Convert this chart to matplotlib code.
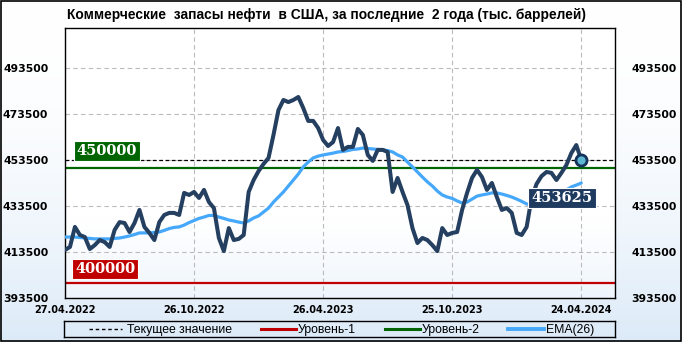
import numpy as np
import pandas as pd
import matplotlib
matplotlib.use("Agg")
import matplotlib.pyplot as plt
from matplotlib.lines import Line2D

# ---------------- data (thousand barrels) ----------------
start_date = "2022-04-27"
stocks = [414.4, 415.7, 424.4, 420.9, 420.0, 414.8, 416.5, 418.7, 417.8, 415.7,
          423.1, 426.5, 426.1, 422.2, 426.1, 431.8, 424.4, 421.8, 418.7, 426.5,
          429.6, 430.5, 430.5, 429.6, 439.2, 438.3, 439.6, 437.0, 440.5, 435.2,
          432.6, 419.6, 413.9, 423.9, 418.7, 419.2, 420.9, 439.6, 444.8, 448.7,
          451.8, 454.4, 464.4, 475.2, 479.6, 478.7, 479.6, 480.9, 476.1, 470.5,
          470.5, 467.4, 462.2, 459.6, 461.3, 467.4, 457.9, 459.2, 459.2, 467.0,
          464.4, 455.7, 453.1, 457.9, 457.9, 457.0, 439.6, 445.7, 439.6, 433.9,
          423.9, 417.4, 419.6, 418.7, 416.5, 413.9, 423.9, 420.9, 421.8, 422.2,
          431.8, 439.2, 445.7, 449.2, 446.1, 440.5, 443.5, 437.4, 431.8, 432.6,
          430.5, 421.8, 420.9, 424.4, 437.0, 443.1, 446.5, 448.3, 447.9, 444.8,
          447.9, 451.3, 456.5, 460.0, 453.625]
ema26 = [420.0, 420.0, 420.0, 419.8, 419.6, 419.4, 419.2, 419.2, 419.2, 419.2,
         419.4, 419.6, 420.0, 420.5, 421.1, 421.8, 421.8, 421.8, 422.0, 422.2,
         422.9, 423.7, 424.2, 424.4, 425.2, 426.3, 427.2, 428.1, 428.7, 429.4,
         429.4, 428.7, 428.1, 427.4, 427.0, 426.5, 426.1, 427.0, 428.3, 429.2,
         430.9, 432.6, 435.2, 437.4, 439.6, 442.2, 444.8, 447.4, 450.5, 452.6,
         454.4, 455.2, 455.7, 456.1, 456.5, 457.0, 457.2, 457.6, 458.1, 458.3,
         458.7, 458.5, 458.3, 458.1, 457.9, 457.6, 457.0, 455.7, 454.8, 452.6,
         450.5, 448.3, 446.1, 444.0, 442.2, 440.0, 438.3, 437.4, 436.8, 435.7,
         434.8, 435.2, 436.5, 437.8, 438.3, 438.7, 439.2, 439.2, 438.7, 438.1,
         437.4, 436.5, 435.5, 434.4, 433.9, 434.4, 435.2, 436.1, 437.0, 437.8,
         439.2, 440.5, 441.8, 442.6, 443.5]
level1 = 400000
level2 = 450000
current_value = 453625
y_ticks = [393500, 413500, 433500, 453500, 473500, 493500]
x_tick_labels = ["27.04.2022", "26.10.2022", "26.04.2023", "25.10.2023", "24.04.2024"]
title = "Коммерческие  запасы нефти  в США, за последние  2 года (тыс. баррелей)"
legend_labels = ["Текущее значение", "Уровень-1", "Уровень-2", "EMA(26)"]

dates = pd.date_range(start_date, periods=len(stocks), freq="7D")
values = np.array(stocks) * 1000
ema_values = np.array(ema26) * 1000
tick_dates = pd.to_datetime(x_tick_labels, format="%d.%m.%Y")

# ---------------- figure ----------------
W, H = 682, 342
fig = plt.figure(figsize=(W / 100, H / 100), dpi=100)

bg = fig.add_axes([0, 0, 1, 1], zorder=-10)
grad = np.linspace(0, 1, 256).reshape(-1, 1)
top_c = np.array([1.0, 1.0, 1.0])
bot_c = np.array([0xDC, 0xEA, 0xF8]) / 255
img = top_c * (1 - grad[..., None] ** 2.0) + bot_c * (grad[..., None] ** 2.0)
img = img.reshape(256, 1, 3)
bg.imshow(img, aspect="auto", extent=[0, 1, 0, 1], origin="upper")
bg.set_xlim(0, 1); bg.set_ylim(0, 1)
bg.axis("off")
bg.add_patch(plt.Rectangle((0.001, 0.002), 0.997, 0.995, fill=False,
                           edgecolor="black", lw=1.2, transform=bg.transAxes))

def px(x0, y0, x1, y1):
    return [x0 / W, 1 - y1 / H, (x1 - x0) / W, (y1 - y0) / H]

ax = fig.add_axes(px(65, 28, 615, 298))
ax.set_facecolor("none")
pg = np.linspace(0, 1, 256)
pimg = np.ones((256, 1, 3))
w_ = np.clip((pg - 0.7) / 0.3, 0, 1) ** 1.2
pc = np.array([0xEE, 0xF5, 0xFC]) / 255
pimg[:, 0, :] = (1 - w_[:, None]) * 1.0 + w_[:, None] * pc
ax.imshow(pimg, aspect="auto", extent=[0, 1, 0, 1], origin="upper",
          transform=ax.transAxes, zorder=0)

x0 = dates[0]
x1 = dates[0] + pd.Timedelta(days=775.6)
ax.set_xlim(x0, x1)
ax.set_ylim(393500, 510900)

ax.set_yticks(y_ticks)
ax.set_yticklabels([str(v) for v in y_ticks])
ax.set_xticks(tick_dates)
ax.set_xticklabels(x_tick_labels)
ax.tick_params(axis="y", length=0, pad=12, labelsize=7.8, labelright=True, right=False)
ax.tick_params(axis="x", length=0, pad=5, labelsize=7.0)
for lab in ax.get_yticklabels() + ax.get_xticklabels():
    lab.set_fontweight("bold")

ax.grid(True, color="#BBBBBB", linestyle=(0, (4, 3)), linewidth=0.8, zorder=1)
for s in ax.spines.values():
    s.set_color("black"); s.set_linewidth(1.0)

ax.axhline(current_value, color="black", lw=0.9, linestyle=(0, (3, 2)), zorder=2)
ax.axhline(level2, color="#006400", lw=1.6, zorder=2)
ax.axhline(level1, color="#C00000", lw=1.6, zorder=2)

ax.plot(dates, ema_values, color="#45A8FA", lw=2.3, zorder=3, solid_capstyle="round")
ax.plot(dates, values, color="#243F60", lw=2.9, zorder=4,
        solid_joinstyle="round", solid_capstyle="round")
ax.plot(dates[-1], current_value, marker="o", ms=8, mfc="#5CB8D2",
        mec="#14325A", mew=2.0, zorder=6)

lab_font = dict(family="DejaVu Serif", weight="bold", size=10.5, color="white")
ax.annotate(f"{level2}", xy=(x0, level2), xytext=(42, 17), textcoords="offset pixels",
            ha="center", va="center", zorder=7,
            bbox=dict(boxstyle="square,pad=0.18", fc="#006400", ec="white", lw=0.8),
            **lab_font)
ax.annotate(f"{level1}", xy=(x0, level1), xytext=(40, 14), textcoords="offset pixels",
            ha="center", va="center", zorder=7,
            bbox=dict(boxstyle="square,pad=0.18", fc="#C00000", ec="white", lw=0.8),
            **lab_font)
ax.annotate(f"{current_value}", xy=(dates[-1], current_value), xytext=(-19, -38),
            textcoords="offset pixels", ha="center", va="center", zorder=7,
            bbox=dict(boxstyle="square,pad=0.22", fc="#1E3A5F", ec="white", lw=0.8),
            **lab_font)

sans = ["Liberation Sans", "DejaVu Sans"]
fig.text(326 / W, 1 - 15 / H, title, ha="center", va="center", fontsize=9.9,
         fontweight="bold", family=sans)

lg = fig.add_axes(px(64, 321, 615, 337))
lg.set_xlim(64, 615); lg.set_ylim(0, 1)
lg.set_xticks([]); lg.set_yticks([])
lg.set_facecolor("none")
for s in lg.spines.values():
    s.set_color("black"); s.set_linewidth(1.0)
entries = [((89, 122), "black", (0, (2.5, 2)), 1.0, 127, legend_labels[0]),
           ((261, 296), "#C00000", "-", 2.2, 298, legend_labels[1]),
           ((385, 420), "#006400", "-", 2.2, 422, legend_labels[2]),
           ((508, 544), "#45A8FA", "-", 2.8, 546, legend_labels[3])]
for (a, b), c, ls, lw, tx, lab in entries:
    lg.add_line(Line2D([a, b], [0.5, 0.5], color=c, linestyle=ls, lw=lw))
    lg.text(tx, 0.45, lab, ha="left", va="center", fontsize=8.8, family=sans)

fig.savefig("out.png", dpi=100)
